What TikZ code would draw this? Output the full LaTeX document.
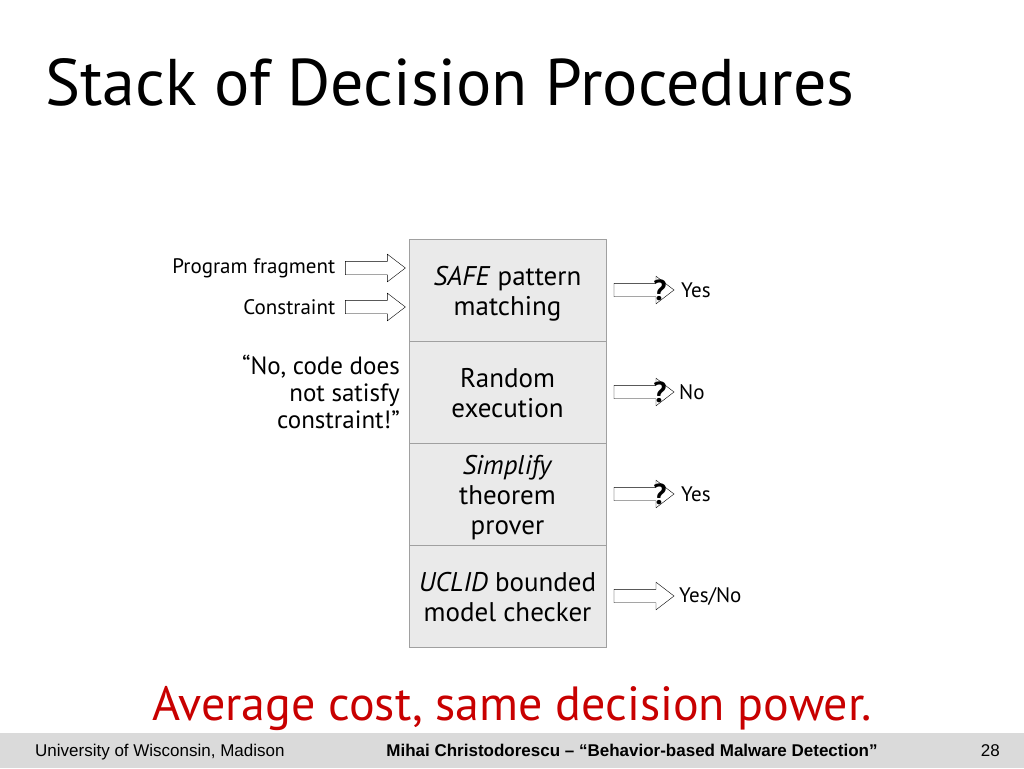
\documentclass[tikz,border=0pt]{standalone}
\usepackage{fontspec}
\setmainfont{PT Sans}
\newfontfamily\footfont{Liberation Sans}
\usepackage{tikz}
\usetikzlibrary{positioning}
\usetikzlibrary{shapes.arrows}
\definecolor{boxgray}{RGB}{234,234,234}
\definecolor{linegray}{RGB}{160,160,160}
\definecolor{slidered}{RGB}{200,0,0}
\definecolor{footgray}{RGB}{218,218,218}
\newcommand{\stacktext}[1]{\raisebox{-4pt}[\height][\depth]{\begin{tabular}{c}#1\end{tabular}}}
\tikzset{
    block/.style={
           rectangle,
           fill=boxgray,
           draw=linegray, thick,
           minimum width=197pt,
           minimum height=102pt,
           inner sep=0pt,
           outer sep=0pt,
           text centered,
           font=\fontsize{27}{30}\selectfont,
           },
     frameless/.style={
           %rectangle,
           %draw=black,
           inner sep=0pt,
           },
     hollow/.style={
           single arrow,
           draw=black, fill=white,
           thin,
           minimum height=60pt,
           minimum width=26pt,
           single arrow tip angle=75,
           inner sep=6.5pt,
           outer sep=0pt,
           },
     small/.style={
           frameless,
           font=\fontsize{21}{24}\selectfont,
           },
     query/.style={
           frameless,
           font=\bfseries\fontsize{29}{30}\selectfont,
           },
}

\begin{document}
\begin{tikzpicture}[x=1pt, y=-1pt, node distance=0pt]
	\useasboundingbox (0,0) rectangle (1024,768);
	\fill[footgray] (0,733) rectangle (1024,768);
	
	\node[frameless, anchor=base west, font=\fontsize{66}{70}\selectfont] (title) at (45,105) {Stack of Decision Procedures};
	
	% the stack
	\node[block] (safe) at (507.5,290) {\stacktext{\textit{SAFE} pattern\\ matching}};
	\node[block, below=of safe] (random) {\stacktext{Random\\ execution}};
	\node[block, below=of random] (simplify) {\stacktext{\textit{Simplify}\\ theorem\\ prover}};
	\node[block, below=of simplify] (uclid) {\stacktext{\textit{UCLID} bounded\\ model checker}};
	
	% inputs
	\node[hollow] (inprog) at (371,268) {};
	\node[hollow] (incons) at (371,307) {};
	\node[small, left=10pt of inprog] (prog) {Program fragment};
	\node[small, left=10pt of incons] (cons) {Constraint};
	\node[frameless, anchor=north east, align=right, font=\fontsize{25}{27}\selectfont] (quote) at (400,355) {“No, code does\\not satisfy\\constraint!”};
	
	% outputs
	\node[hollow, right=8pt of safe] (outsafe) {};
	\node[hollow, right=8pt of random] (outrandom) {};
	\node[hollow, right=8pt of simplify] (outsimplify) {};
	\node[hollow, right=8pt of uclid] (outuclid) {};
	
	\node[query] (q1) at ([xshift=-14pt]outsafe.tip) {?};
	\node[query] (q2) at ([xshift=-14pt]outrandom.tip) {?};
	\node[query] (q3) at ([xshift=-14pt]outsimplify.tip) {?};
	
	\node[small, right=7pt of outsafe] (yes1) {Yes};
	\node[small, right=5pt of outrandom] (no) {No};
	\node[small, right=7pt of outsimplify] (yes2) {Yes};
	\node[small, right=5pt of outuclid] (yesno) {Yes/No};
	
	\node[frameless, anchor=base, text=slidered, font=\fontsize{48}{50}\selectfont] (moral) at (512,720) {Average cost, same decision power.};
	
	% footer
	\node[frameless, anchor=base west, font=\footfont\fontsize{17}{20}\selectfont] (univ) at (35,756) {University of Wisconsin, Madison};
	\node[frameless, anchor=base, font=\footfont\bfseries\fontsize{17}{20}\selectfont] (talk) at (632,756) {Mihai Christodorescu – “Behavior-based Malware Detection”};
	\node[frameless, anchor=base east, font=\footfont\fontsize{17}{20}\selectfont] (page) at (1000,756) {28};
\end{tikzpicture}
\end{document}
